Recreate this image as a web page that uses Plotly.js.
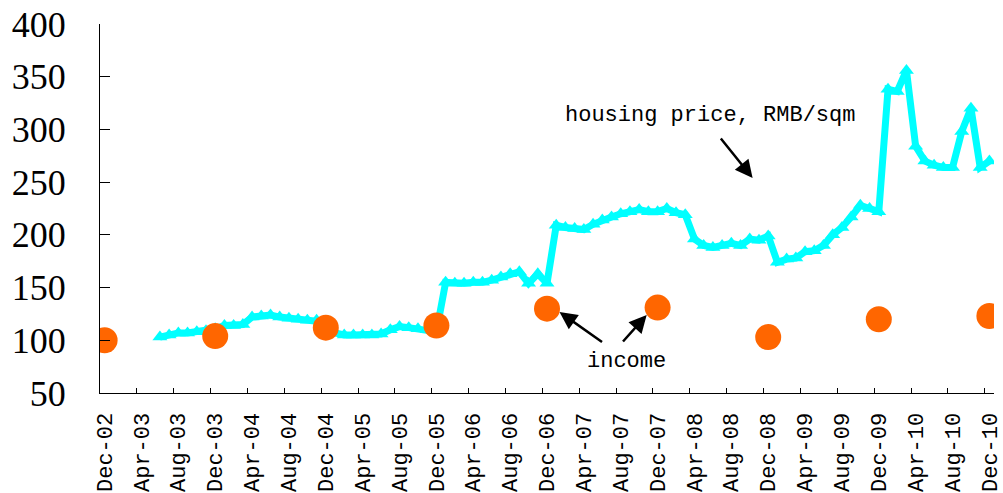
<!DOCTYPE html>
<html>
<head>
<meta charset="utf-8">
<script src="https://cdn.plot.ly/plotly-3.0.1.min.js"></script>
<style>
  html, body { margin: 0; padding: 0; background: #ffffff; }
  #chart { width: 1003px; height: 493px; }
</style>
</head>
<body>
<div id="chart"></div>
<script>
// ---- tick labels / categories (monthly, Dec-02 .. Dec-10) ----
const monthNames = ['Jan','Feb','Mar','Apr','May','Jun','Jul','Aug','Sep','Oct','Nov','Dec'];
const months = ['Dec-02'];
for (let yr = 3; yr <= 10; yr++) {
  for (let m = 0; m < 12; m++) {
    months.push(monthNames[m] + '-' + (yr < 10 ? '0' + yr : '' + yr));
  }
}
const tickLabels = months.filter((_, i) => i % 4 === 0);

// ---- housing price, RMB/sqm (index), starts Jun-03 ----
const priceValues = [
  null, null, null, null, null, null,
  103, 105, 107, 107, 108, 109, 111, 114, 114, 115, 122, 123, 124, 122, 121,
  120, 119, 119, 117, 107, 105, 105, 105, 105, 106, 110, 113, 112, 111, 110,
  108, 155, 154, 154, 155, 155, 157, 160, 163, 165, 154, 163, 154, 209, 207,
  206, 205, 210, 214, 217, 220, 222, 224, 222, 222, 225, 221, 219, 196, 190,
  188, 190, 192, 190, 196, 195, 199, 174, 177, 178, 184, 185, 190, 200, 207,
  217, 228, 225, 222, 338, 336, 356, 284, 270, 266, 264, 264, 298, 320, 264,
  270
];

// ---- income (index), every December ----
const incomeMonths = ['Dec-02','Dec-03','Dec-04','Dec-05','Dec-06','Dec-07','Dec-08','Dec-09','Dec-10'];
const incomeValues = [100, 104, 112, 114, 130, 131, 103, 120, 123];

const priceTrace = {
  x: months,
  y: priceValues,
  type: 'scatter',
  mode: 'lines+markers',
  line: { color: '#00FFFF', width: 7 },
  marker: { symbol: 'triangle-up', size: 13, color: '#00FFFF' },
  connectgaps: false,
  hoverinfo: 'x+y'
};

const incomeTrace = {
  x: incomeMonths,
  y: incomeValues,
  type: 'scatter',
  mode: 'markers',
  marker: { symbol: 'circle', size: 26, color: '#FF6600' },
  hoverinfo: 'x+y'
};

const monoFont = { family: 'Liberation Mono, Courier New, monospace', size: 22, color: '#000000' };

const layout = {
  width: 1003,
  height: 493,
  margin: { l: 100, r: 9, t: 24, b: 100, pad: 0 },
  paper_bgcolor: '#ffffff',
  plot_bgcolor: '#ffffff',
  showlegend: false,
  xaxis: {
    type: 'category',
    categoryorder: 'array',
    categoryarray: months,
    range: [-0.5, months.length - 0.5],
    tickmode: 'array',
    tickvals: tickLabels,
    ticktext: tickLabels,
    tickson: 'boundaries',
    ticks: 'inside',
    ticklen: 5,
    tickwidth: 1,
    tickcolor: '#000000',
    tickangle: -90,
    tickfont: monoFont,
    ticklabelstandoff: 10,
    showline: true,
    linecolor: '#000000',
    linewidth: 1,
    showgrid: false,
    zeroline: false,
    fixedrange: true
  },
  yaxis: {
    range: [50, 400],
    tickmode: 'linear',
    tick0: 50,
    dtick: 50,
    ticks: 'inside',
    ticklen: 10,
    tickwidth: 1,
    tickcolor: '#000000',
    tickfont: { family: 'Liberation Serif, Times New Roman, serif', size: 36, color: '#000000' },
    ticklabelstandoff: 26,
    showline: true,
    linecolor: '#000000',
    linewidth: 1,
    showgrid: false,
    zeroline: false,
    fixedrange: true
  },
  annotations: [
    {
      xref: 'paper', yref: 'paper', x: 0.682, y: 0.7507,
      text: 'housing price, RMB/sqm', showarrow: false,
      font: monoFont, xanchor: 'center', yanchor: 'middle'
    },
    {
      xref: 'paper', yref: 'paper', x: 0.589, y: 0.0867,
      text: 'income', showarrow: false,
      font: monoFont, xanchor: 'center', yanchor: 'middle'
    },
    {
      xref: 'paper', yref: 'paper', x: 0.730, y: 0.5827,
      text: '', showarrow: true, arrowhead: 2, arrowsize: 1.4, arrowwidth: 2.5,
      arrowcolor: '#000000', ax: -33, ay: -41, standoff: 0
    },
    {
      xref: 'paper', yref: 'paper', x: 0.5140, y: 0.2195,
      text: '', showarrow: true, arrowhead: 2, arrowsize: 1.4, arrowwidth: 2.5,
      arrowcolor: '#000000', ax: 44, ay: 31, standoff: 0
    },
    {
      xref: 'paper', yref: 'paper', x: 0.6115, y: 0.2114,
      text: '', showarrow: true, arrowhead: 2, arrowsize: 1.4, arrowwidth: 2.5,
      arrowcolor: '#000000', ax: -25, ay: 28, standoff: 0
    }
  ]
};

Plotly.newPlot('chart', [priceTrace, incomeTrace], layout, { displayModeBar: false, staticPlot: true });
</script>
</body>
</html>
